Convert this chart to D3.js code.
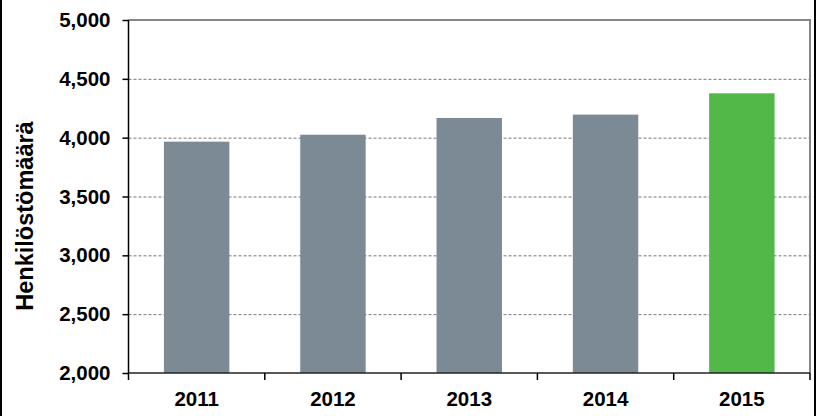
<!DOCTYPE html>
<html><head><meta charset="utf-8">
<script src="https://cdn.jsdelivr.net/npm/d3@7"></script>
<style>body{margin:0;background:#fff}svg{display:block}</style>
</head><body>
<script>
const categories = ["2011","2012","2013","2014","2015"];
const values = [3966, 4025, 4167, 4196, 4377];
const colors = ["#7b8a94","#7b8a94","#7b8a94","#7b8a94","#52b848"];
const yTicks = [2000,2500,3000,3500,4000,4500,5000];
const yLabel = "Henkilöstömäärä";

const W=817,H=416, L=128.5, R=810, T=20, B=373;
const svg=d3.select("body").append("svg").attr("width",W).attr("height",H);
const x=d3.scaleBand().domain(categories).range([L,R]).paddingInner(0.52).paddingOuter(0.26);
const y=d3.scaleLinear().domain([2000,5000]).range([B,T]);
const font="Liberation Sans, Arial, sans-serif";

// outer frame sides
svg.append("line").attr("x1",1).attr("x2",1).attr("y1",0).attr("y2",H).attr("stroke","#000").attr("stroke-width",2);
svg.append("line").attr("x1",815).attr("x2",815).attr("y1",0).attr("y2",H).attr("stroke","#000").attr("stroke-width",2);

// gridlines
svg.append("g").selectAll("line").data(yTicks.filter(d=>d>2000&&d<5000)).join("line")
 .attr("x1",L).attr("x2",R).attr("y1",d=>y(d)+0.5).attr("y2",d=>y(d)+0.5)
 .attr("stroke","#777").attr("stroke-width",1).attr("stroke-dasharray","3,2");
// top and right border
svg.append("path").attr("d",`M${L},${T}H${R}V${B}`).attr("fill","none").attr("stroke","#858585").attr("stroke-width",2);

// bars
svg.append("g").selectAll("rect").data(categories).join("rect")
 .attr("x",d=>x(d)).attr("width",x.bandwidth())
 .attr("y",(d,i)=>y(values[i])).attr("height",(d,i)=>B-y(values[i]))
 .attr("fill",(d,i)=>colors[i]);

// y axis
const ya=svg.append("g").attr("transform",`translate(${L},0)`)
 .call(d3.axisLeft(y).tickValues(yTicks).tickFormat(d3.format(",")).tickSize(6).tickPadding(12));
ya.select(".domain").remove();
ya.selectAll(".tick line").attr("stroke","#000").attr("stroke-width",1.5);
ya.selectAll("text").attr("font-family",font).attr("font-weight","bold").attr("font-size",20.5).attr("fill","#000");
svg.append("line").attr("x1",L).attr("x2",L).attr("y1",T).attr("y2",380).attr("stroke","#000").attr("stroke-width",1.5);

// x axis
svg.append("line").attr("x1",L).attr("x2",R).attr("y1",B).attr("y2",B).attr("stroke","#222").attr("stroke-width",1.5);
const step=x.step();
const bounds=categories.map((d,i)=>L+step*(i+1));
svg.append("g").selectAll("line").data(bounds).join("line")
 .attr("x1",d=>d).attr("x2",d=>d).attr("y1",B).attr("y2",380).attr("stroke","#000").attr("stroke-width",1.5);
svg.append("g").selectAll("text").data(categories).join("text")
 .attr("x",d=>x(d)+x.bandwidth()/2).attr("y",406).attr("text-anchor","middle")
 .attr("font-family",font).attr("font-weight","bold").attr("font-size",20.5).text(d=>d);

// y label
svg.append("text").attr("transform","translate(33,216) rotate(-90)").attr("text-anchor","middle")
 .attr("font-family",font).attr("font-weight","bold").attr("font-size",23.5).text(yLabel);
</script>
</body></html>
